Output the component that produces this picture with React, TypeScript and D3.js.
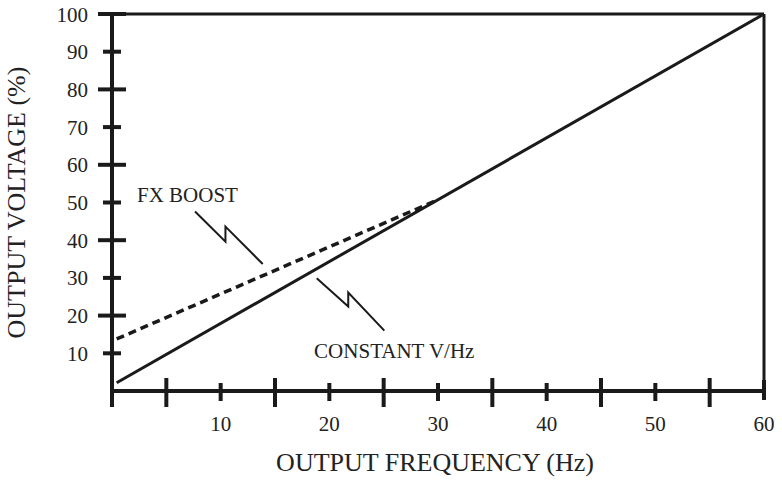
import React from "react";
import * as d3 from "d3";

const xDomain: [number, number] = [0, 60];
const yDomain: [number, number] = [0, 100];
const xTickValues = [0, 5, 10, 15, 20, 25, 30, 35, 40, 45, 50, 55, 60];
const xLabelValues = [10, 20, 30, 40, 50, 60];
const yTickValues = [10, 20, 30, 40, 50, 60, 70, 80, 90, 100];
const constantVHz: [number, number][] = [[0.43, 2.2], [60, 100]];
const fxBoost: [number, number][] = [[0.43, 13.8], [29.9, 50.6]];
const fxLeader: [number, number][] = [[7.64, 47.6], [10.44, 39.6], [10.44, 43.6], [13.87, 33.7]];
const constLeader: [number, number][] = [[18.84, 29.9], [21.74, 22.4], [21.74, 26.1], [25.06, 16.0]];
const annotations = [
  { text: "FX BOOST", x: 2.3, y: 50.2 },
  { text: "CONSTANT V/Hz", x: 18.6, y: 8.7 },
];

const W = 782;
const H = 480;
const FONT = "'Liberation Serif', 'Times New Roman', serif";
const INK = "#1a1a1a";
const TXT = "#222";

export default function App() {
  const x = d3.scaleLinear().domain(xDomain).range([112, 764]);
  const y = d3.scaleLinear().domain(yDomain).range([391, 14]);
  const line = d3.line<[number, number]>().x((d) => x(d[0])).y((d) => y(d[1]));
  const x0 = x(0);
  const y0 = y(0);
  const xEnd = x(60);
  const yTop = y(100);

  return (
    <svg
      width={W}
      height={H}
      style={{ position: "absolute", left: 0, top: 0, background: "#fff" }}
      fontFamily={FONT}
    >
      {/* frame top & right */}
      <line x1={x0} x2={xEnd} y1={yTop} y2={yTop} stroke={INK} strokeWidth={3} />
      <line x1={xEnd} x2={xEnd} y1={yTop} y2={y0} stroke={INK} strokeWidth={3} />
      {/* axes */}
      <line x1={x0} x2={x0} y1={yTop - 1.5} y2={y0 + 16} stroke={INK} strokeWidth={4} />
      <line x1={x0} x2={xEnd + 1.5} y1={y0} y2={y0} stroke={INK} strokeWidth={4} />
      {/* y ticks */}
      {yTickValues.map((v) => {
        const long = v % 20 === 0;
        const l = long ? 14 : 9;
        return (
          <g key={"yt" + v}>
            <line x1={x0 - l} x2={x0 + l} y1={y(v)} y2={y(v)} stroke={INK} strokeWidth={4} />
            <text x={88} y={y(v) + 7.5} textAnchor="end" fontSize={21} fill={TXT}>
              {v}
            </text>
          </g>
        );
      })}
      {/* x ticks */}
      {xTickValues.map((v) => {
        if (v === 0) return null;
        let top: number, bot: number;
        if (v === 60) {
          top = y0 - 11;
          bot = y0 + 9;
        } else if (v % 10 === 5) {
          top = y0 - 13;
          bot = y0 + 16;
        } else {
          top = y0 - 8;
          bot = y0 + 10;
        }
        return <line key={"xt" + v} x1={x(v)} x2={x(v)} y1={top} y2={bot} stroke={INK} strokeWidth={4} />;
      })}
      {xLabelValues.map((v) => (
        <text key={"xl" + v} x={x(v)} y={430.5} textAnchor="middle" fontSize={21} fill={TXT}>
          {v}
        </text>
      ))}
      {/* data lines */}
      <path d={line(constantVHz) || ""} fill="none" stroke={INK} strokeWidth={3} />
      <path d={line(fxBoost) || ""} fill="none" stroke={INK} strokeWidth={3.5} strokeDasharray="8,5" />
      {/* leaders */}
      <path d={line(fxLeader) || ""} fill="none" stroke={INK} strokeWidth={2} />
      <path d={line(constLeader) || ""} fill="none" stroke={INK} strokeWidth={2} />
      {annotations.map((a) => (
        <text key={a.text} x={x(a.x)} y={y(a.y)} fontSize={21} fill={TXT}>
          {a.text}
        </text>
      ))}
      {/* axis titles */}
      <text x={(275 + 595) / 2} y={470.5} textAnchor="middle" fontSize={26} fill={TXT}>
        OUTPUT FREQUENCY (Hz)
      </text>
      <text
        transform={`translate(24.5, 202.5) rotate(-90)`}
        textAnchor="middle"
        fontSize={26}
        fill={TXT}
      >
        OUTPUT VOLTAGE (%)
      </text>
    </svg>
  );
}
